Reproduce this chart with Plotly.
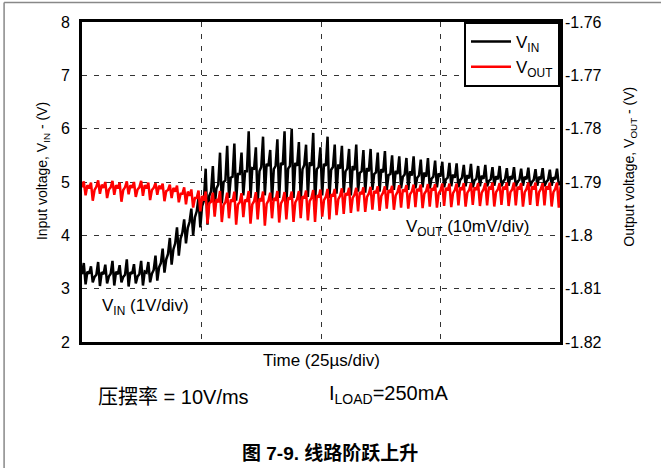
import plotly.graph_objects as go

# ---- data read from the scope capture (sample step 0.375 us) ----
vin_v = [
    3.27, 3.48, 3.08, 3.32,  3.28, 3.42, 3.12, 3.22,  3.26, 3.50, 3.05, 3.31,
    3.27, 3.45, 3.10, 3.23,  3.28, 3.52, 3.06, 3.32,  3.27, 3.44, 3.12, 3.22,
    3.26, 3.55, 3.04, 3.31,  3.28, 3.46, 3.10, 3.23,  3.27, 3.52, 3.06, 3.32,
    3.30, 3.50, 3.12, 3.28,  3.35, 3.62, 3.15, 3.40,  3.48, 3.75, 3.30, 3.55,
    3.65, 3.95, 3.45, 3.74,  3.85, 4.15, 3.62, 3.94,  4.05, 4.30, 3.85, 4.14,
    4.25, 4.50, 4.00, 4.34,  4.45, 4.70, 4.15, 4.55,  4.65, 5.25, 4.20, 4.74,
    4.82, 5.30, 4.55, 4.88,  4.95, 5.55, 4.60, 5.00,  5.03, 5.68, 4.70, 5.08,
    5.10, 5.72, 4.65, 5.15,  5.15, 5.55, 4.75, 5.20,  5.20, 5.95, 4.70, 5.26,
    5.25, 5.65, 4.60, 5.20,  5.28, 5.85, 4.75, 5.34,  5.30, 5.60, 4.65, 5.24,
    5.30, 5.80, 4.70, 5.36,  5.32, 5.95, 4.60, 5.25,  5.30, 6.00, 4.70, 5.36,
    5.30, 5.75, 4.65, 5.24,  5.32, 5.70, 4.72, 5.37,  5.30, 5.92, 4.60, 5.24,
    5.28, 5.65, 4.75, 5.34,  5.30, 5.85, 4.70, 5.23,  5.28, 5.70, 4.78, 5.33,
    5.25, 5.68, 4.80, 5.20,  5.25, 5.62, 4.75, 5.30,  5.22, 5.70, 4.82, 5.17,
    5.20, 5.60, 4.80, 5.26,  5.20, 5.62, 4.85, 5.15,  5.18, 5.55, 4.82, 5.24,
    5.18, 5.58, 4.85, 5.13,  5.15, 5.50, 4.85, 5.21,  5.15, 5.48, 4.88, 5.10,
    5.14, 5.45, 4.85, 5.20,  5.12, 5.48, 4.88, 5.08,  5.12, 5.42, 4.90, 5.18,
    5.10, 5.45, 4.88, 5.06,  5.10, 5.40, 4.90, 5.16,  5.10, 5.38, 4.90, 5.05,
    5.08, 5.36, 4.92, 5.14,  5.08, 5.35, 4.90, 5.04,  5.08, 5.32, 4.92, 5.13,
    5.07, 5.34, 4.90, 5.03,  5.06, 5.30, 4.92, 5.12,  5.06, 5.32, 4.92, 5.02,
    5.05, 5.28, 4.93, 5.11,  5.05, 5.30, 4.92, 5.01,  5.05, 5.26, 4.93, 5.11,
    5.05, 5.28, 4.92, 5.01,  5.04, 5.25, 4.93, 5.10,  5.05, 5.27, 4.92, 5.00,
    5.04, 5.24, 4.93, 5.10,  5.05, 5.26, 4.92, 5.00,  5.04, 5.23, 4.93, 5.09,
    5.05, 5.25, 4.94, 5.01,
]

vout_v = [
    -1.7910, -1.7899, -1.7925, -1.7906,  -1.7912, -1.7901, -1.7935, -1.7915,
    -1.7909, -1.7897, -1.7922, -1.7905,  -1.7911, -1.7900, -1.7930, -1.7914,
    -1.7910, -1.7898, -1.7924, -1.7906,  -1.7912, -1.7901, -1.7937, -1.7915,
    -1.7910, -1.7899, -1.7923, -1.7906,  -1.7911, -1.7900, -1.7928, -1.7914,
    -1.7910, -1.7898, -1.7926, -1.7906,  -1.7912, -1.7901, -1.7934, -1.7915,
    -1.7911, -1.7902, -1.7924, -1.7907,  -1.7913, -1.7903, -1.7936, -1.7917,
    -1.7915, -1.7905, -1.7930, -1.7911,  -1.7918, -1.7907, -1.7938, -1.7922,
    -1.7922, -1.7910, -1.7942, -1.7918,  -1.7926, -1.7914, -1.7948, -1.7930,
    -1.7930, -1.7916, -1.7955, -1.7926,  -1.7935, -1.7918, -1.7978, -1.7940,
    -1.7937, -1.7920, -1.7965, -1.7932,  -1.7938, -1.7917, -1.7975, -1.7943,
    -1.7938, -1.7920, -1.7968, -1.7933,  -1.7937, -1.7918, -1.7980, -1.7942,
    -1.7938, -1.7921, -1.7966, -1.7933,  -1.7937, -1.7917, -1.7978, -1.7942,
    -1.7936, -1.7919, -1.7970, -1.7931,  -1.7936, -1.7918, -1.7982, -1.7941,
    -1.7935, -1.7920, -1.7968, -1.7930,  -1.7935, -1.7917, -1.7976, -1.7940,
    -1.7934, -1.7919, -1.7970, -1.7929,  -1.7933, -1.7918, -1.7975, -1.7938,
    -1.7932, -1.7917, -1.7968, -1.7927,  -1.7931, -1.7916, -1.7972, -1.7936,
    -1.7930, -1.7915, -1.7975, -1.7925,  -1.7929, -1.7914, -1.7965, -1.7934,
    -1.7928, -1.7913, -1.7970, -1.7923,  -1.7927, -1.7913, -1.7962, -1.7932,
    -1.7926, -1.7912, -1.7960, -1.7921,  -1.7925, -1.7911, -1.7958, -1.7930,
    -1.7924, -1.7911, -1.7955, -1.7919,  -1.7923, -1.7910, -1.7956, -1.7928,
    -1.7922, -1.7909, -1.7952, -1.7917,  -1.7921, -1.7908, -1.7954, -1.7926,
    -1.7920, -1.7908, -1.7950, -1.7915,  -1.7920, -1.7907, -1.7952, -1.7925,
    -1.7919, -1.7906, -1.7948, -1.7914,  -1.7918, -1.7906, -1.7950, -1.7923,
    -1.7918, -1.7905, -1.7947, -1.7913,  -1.7917, -1.7905, -1.7949, -1.7922,
    -1.7917, -1.7904, -1.7946, -1.7912,  -1.7916, -1.7904, -1.7948, -1.7921,
    -1.7916, -1.7903, -1.7945, -1.7911,  -1.7916, -1.7903, -1.7947, -1.7921,
    -1.7915, -1.7903, -1.7944, -1.7910,  -1.7915, -1.7902, -1.7946, -1.7920,
    -1.7915, -1.7902, -1.7943, -1.7910,  -1.7915, -1.7902, -1.7945, -1.7920,
    -1.7914, -1.7902, -1.7944, -1.7909,  -1.7914, -1.7901, -1.7946, -1.7919,
    -1.7914, -1.7902, -1.7943, -1.7909,  -1.7914, -1.7901, -1.7945, -1.7919,
    -1.7914, -1.7901, -1.7944, -1.7909,  -1.7914, -1.7902, -1.7946, -1.7919,
    -1.7913, -1.7901, -1.7943, -1.7908,  -1.7914, -1.7901, -1.7945, -1.7919,
    -1.7913, -1.7902, -1.7944, -1.7908,  -1.7914, -1.7901, -1.7946, -1.7919,
    -1.7913, -1.7901, -1.7948, -1.7908,
]

sample_step_us = 0.375
time_us = [i * sample_step_us for i in range(len(vin_v))]

vin_ticks = [2, 3, 4, 5, 6, 7, 8]
vout_tickvals = [-1.82, -1.81, -1.80, -1.79, -1.78, -1.77, -1.76]
vout_ticktext = ["-1.82", "-1.81", "-1.8", "-1.79", "-1.78", "-1.77", "-1.76"]
time_grid = [0, 25, 50, 75, 100]

FONT = "Liberation Sans, Arial, Noto Sans CJK SC, sans-serif"

fig = go.Figure()
fig.add_trace(go.Scatter(x=time_us, y=vin_v, mode="lines", name="V<sub>IN</sub>",
                         line=dict(color="black", width=2.5), yaxis="y"))
fig.add_trace(go.Scatter(x=time_us, y=vout_v, mode="lines", name="V<sub>OUT</sub>",
                         line=dict(color="#ff0000", width=2.5), yaxis="y2"))

grid_style = dict(showgrid=True, gridcolor="#333333", gridwidth=1, griddash="5px,7px")

fig.update_layout(
    width=661, height=468,
    margin=dict(l=82, r=101, t=22, b=126),
    paper_bgcolor="white", plot_bgcolor="white",
    font=dict(family=FONT, size=16, color="black"),
    xaxis=dict(range=[0, 100], tickvals=time_grid, showticklabels=False, ticks="",
               showline=True, linecolor="black", linewidth=3, mirror=True,
               zeroline=False, **grid_style),
    yaxis=dict(range=[2, 8], tickvals=vin_ticks, ticks="", ticklabelstandoff=6,
               showline=True, linecolor="black", linewidth=3, mirror=True,
               zeroline=False, tickfont=dict(size=16), **grid_style),
    yaxis2=dict(range=[-1.82, -1.76], overlaying="y", side="right",
                tickvals=vout_tickvals, ticktext=vout_ticktext, ticks="",
                ticklabelstandoff=4, showgrid=False, zeroline=False,
                showline=False, tickfont=dict(size=16)),
    legend=dict(x=1, y=1, xanchor="right", yanchor="top",
                bordercolor="black", borderwidth=2, bgcolor="white",
                font=dict(size=17), tracegroupgap=0, itemwidth=40),
    showlegend=True,
)

annos = [
    dict(text="V<sub>IN</sub> (1V/div)", x=0.038, y=0.109, xanchor="left", size=17),
    dict(text="V<sub>OUT</sub> (10mV/div)", x=0.674, y=0.356, xanchor="left", size=17),
    dict(text="Time (25µs/div)", x=0.5, y=-0.059, xanchor="center", size=17),
    dict(text="压摆率 = 10V/ms", x=0.029, y=-0.172, xanchor="left", size=20),
    dict(text="I<sub>LOAD</sub>=250mA", x=0.513, y=-0.165, xanchor="left", size=20),
    dict(text="<b>图 7-9. 线路阶跃上升</b>", x=0.519, y=-0.347, xanchor="center", size=19),
]
for a in annos:
    fig.add_annotation(text=a["text"], x=a["x"], y=a["y"], xref="paper", yref="paper",
                       xanchor=a["xanchor"], yanchor="middle", showarrow=False,
                       font=dict(family=FONT, size=a["size"], color="black"))

fig.add_annotation(text="Input voltage, V<sub>IN</sub> - (V)", x=-0.0816, y=0.534,
                   xref="paper", yref="paper", textangle=-90, showarrow=False,
                   xanchor="center", yanchor="middle",
                   font=dict(family=FONT, size=14, color="black"))
fig.add_annotation(text="Output voltage, V<sub>OUT</sub> - (V)", x=1.146, y=0.547,
                   xref="paper", yref="paper", textangle=-90, showarrow=False,
                   xanchor="center", yanchor="middle",
                   font=dict(family=FONT, size=14, color="black"))

# outer page frame (gray lines at top and left)
fig.add_shape(type="line", xref="paper", yref="paper", x0=-0.163, x1=1.22, y0=1.061, y1=1.061,
              line=dict(color="#888888", width=1.5))
fig.add_shape(type="line", xref="paper", yref="paper", x0=-0.163, x1=-0.163, y0=1.061, y1=-0.4,
              line=dict(color="#888888", width=1.5))

fig.write_html("out.html")
